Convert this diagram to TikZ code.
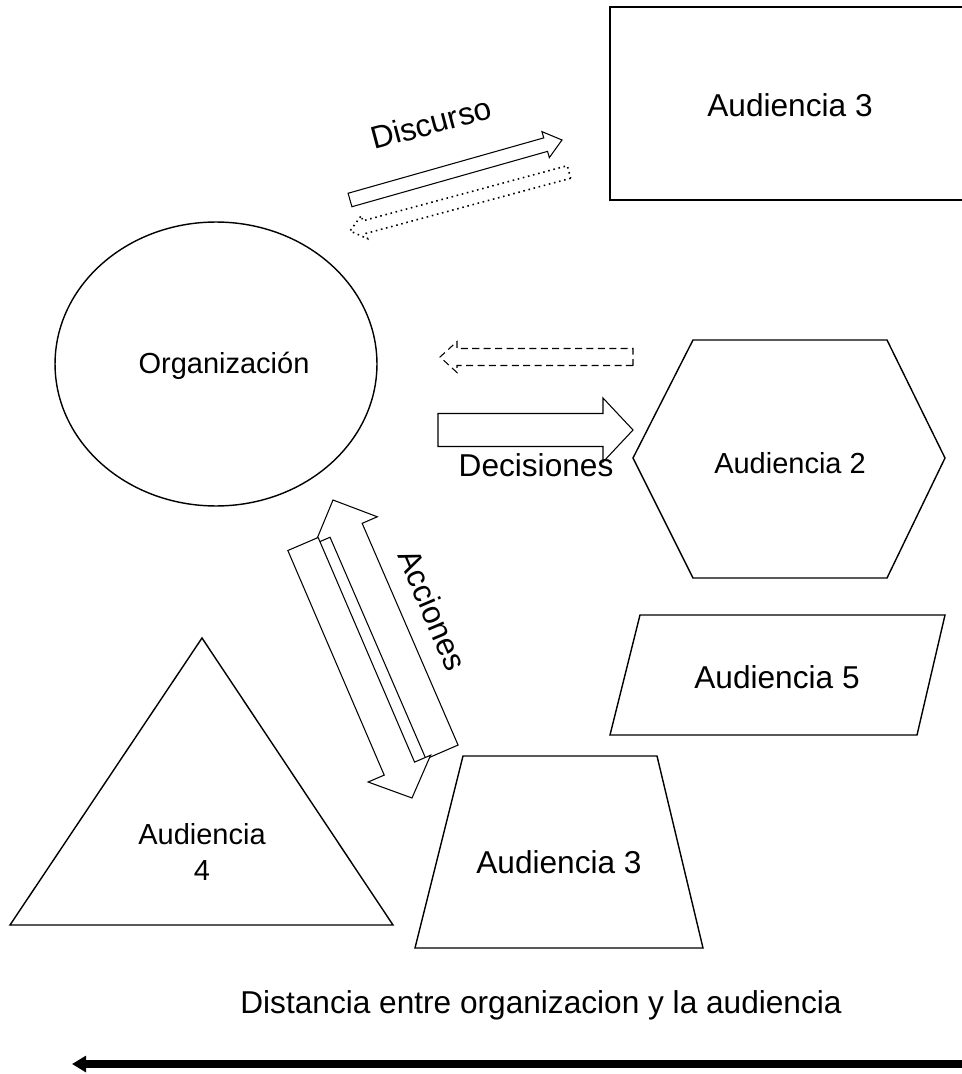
\documentclass[tikz,border=0pt]{standalone}
\usepackage{fontspec}
\setmainfont{Liberation Sans}
\usepackage{tikz}
\usetikzlibrary{calc,arrows.meta}
\tikzset{
	shapeline/.style={draw=black, line width=0.8pt, fill=white, line join=miter},
	block/.style={draw=black, line width=0.6pt, fill=white, line join=miter},
	dotblock/.style={block, line width=0.9pt, dash pattern=on 0.9pt off 2.1pt},
	dashblock/.style={block, dash pattern=on 4pt off 2.5pt},
	bigtext/.style={font=\fontsize{18}{21}\selectfont, inner sep=0pt},
	smalltext/.style={font=\fontsize{16.5}{20}\selectfont, inner sep=0pt, align=center},
	distline/.style={line width=4pt, -{Triangle[length=8pt,width=9pt]}}
}
% [style]{tail}{tip}{half shaft}{half head}{head length}, sizes in px
\newcommand{\blockarrow}[6][]{%
	\coordinate (bh) at ($(#3)!#6*0.02cm!(#2)$);
	\draw[block,#1] ($(#2)!#4*0.02cm!90:(#3)$) -- ($(bh)!#4*0.02cm!90:(#3)$)
		-- ($(bh)!#5*0.02cm!90:(#3)$) -- (#3)
		-- ($(bh)!#5*0.02cm!-90:(#3)$) -- ($(bh)!#4*0.02cm!-90:(#3)$)
		-- ($(#2)!#4*0.02cm!-90:(#3)$) -- cycle;
}

\begin{document}
\begin{tikzpicture}[x=0.02cm, y=-0.02cm]
	\useasboundingbox (0,0) rectangle (961,1074);

	% audiences and organization
	\draw[shapeline, line width=1.1pt] (610,7) rectangle (985,200);
	\node[bigtext] (aud3a) at (790,105) {Audiencia 3};

	\draw[shapeline] (216,364) ellipse [x radius=3.22cm, y radius=2.84cm];
	\node[smalltext] (org) at (224,366) {Organización};

	\draw[shapeline] (633,458) -- (693,340) -- (887,340) -- (945,458) -- (887,578) -- (693,578) -- cycle;
	\node[smalltext] (aud2) at (790,463) {Audiencia 2};

	\draw[shapeline] (640,615) -- (945,615) -- (917,735) -- (610,735) -- cycle;
	\node[bigtext] (aud5) at (777,677) {Audiencia 5};

	\draw[shapeline] (463,756) -- (657,756) -- (703,948) -- (415,948) -- cycle;
	\node[bigtext] (aud3b) at (559,862) {Audiencia 3};

	\draw[shapeline] (202,638) -- (393,925) -- (10,925) -- cycle;
	\node[smalltext] (aud4) at (202,852) {Audiencia\\4};

	% block arrows
	\coordinate (dis1) at (350,200); \coordinate (dis2) at (562,140);
	\coordinate (ret1) at (569,172); \coordinate (ret2) at (350,231);
	\coordinate (fb1) at (633,357); \coordinate (fb2) at (440,357);
	\coordinate (dec1) at (438,430); \coordinate (dec2) at (633,430);
	\coordinate (up1) at (442,752); \coordinate (up2) at (333,500);
	\coordinate (dn1) at (303,544); \coordinate (dn2) at (412,798);

	\blockarrow{dis1}{dis2}{7}{13.5}{17}
	\blockarrow[dotblock]{ret1}{ret2}{6.5}{12}{15}
	\blockarrow[dashblock]{fb1}{fb2}{8.5}{15.5}{17}
	\blockarrow{dec1}{dec2}{16.5}{32}{30}
	\blockarrow{up1}{up2}{17.5}{34}{33}
	\blockarrow{dn1}{dn2}{16.5}{34}{32}

	\node[bigtext, rotate=15] (discurso) at (431,123) {Discurso};
	\node[bigtext] (decisiones) at (536,465) {Decisiones};
	\node[bigtext, rotate=-67] (acciones) at (433,610) {Acciones};

	% distance scale
	\node[bigtext] (dist) at (541,1005) {Distancia entre organizacion y la audiencia};
	\coordinate (d1) at (975,1064); \coordinate (d2) at (72,1064);
	\draw[distline] (d1) -- (d2);
\end{tikzpicture}
\end{document}
